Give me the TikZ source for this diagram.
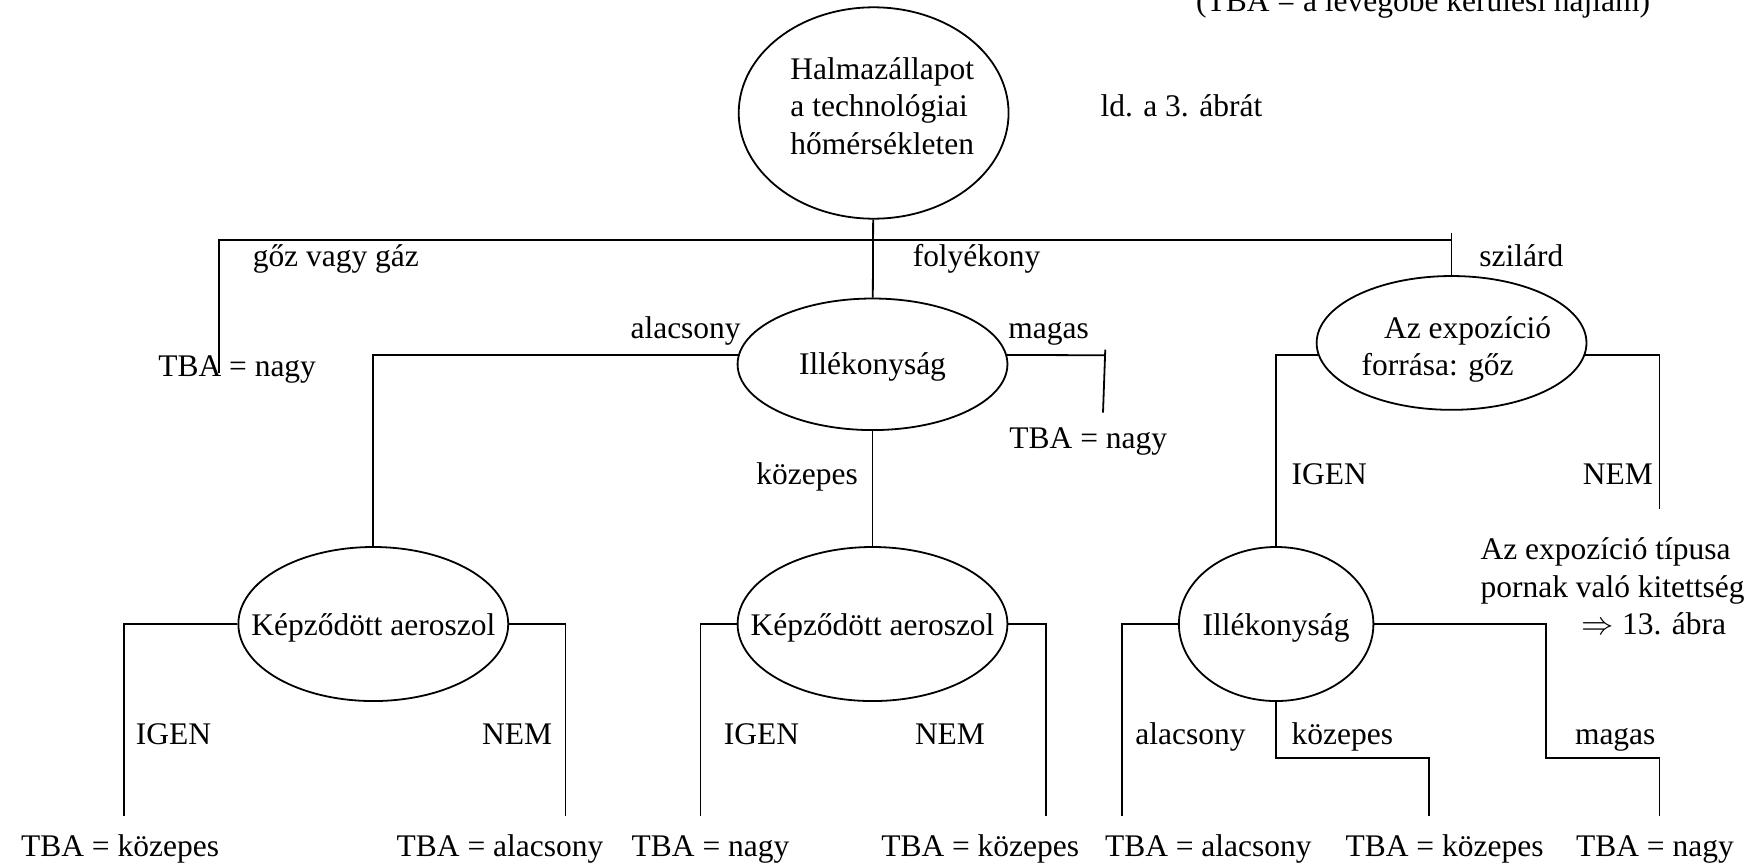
\documentclass[tikz,border=0pt]{standalone}
\usepackage{fontspec}
\setmainfont{Liberation Serif}
\usetikzlibrary{shapes.geometric}

% text in an ellipse: centred, or from a left offset; no size of its own
\newcommand{\kozep}[2]{\makebox[0pt]{\raisebox{#1}[0pt][0pt]{#2}}}
\newcommand{\belul}[3]{\makebox[0pt][l]{\hspace*{#1}\raisebox{#2}[0pt][0pt]{\begin{tabular}[t]{@{}l@{}}#3\end{tabular}}}}

\begin{document}
\begin{tikzpicture}[x=0.5pt, y=-0.5pt, line width=0.8pt]

\tikzstyle{every node} = [inner sep=0pt, font=\fontsize{14}{16.5}\selectfont]
\tikzstyle{ell} = [ellipse, draw, minimum width=120pt]
\tikzstyle{lbl} = [anchor=base west]

\useasboundingbox (0,0) rectangle (1568,771);

\node[lbl] (hajlam) at (1063,10) {(TBA = a levegőbe kerülési hajlam)};

\node[ell, minimum height=94pt] (allapot) at (777,100.5)
  {\belul{-37pt}{14.75pt}{Halmazállapot\\a technológiai\\hőmérsékleten}};
\node[lbl] (ld) at (978,104) {ld. a 3. ábrát};

\node[ell, minimum height=58.5pt] (illek) at (776,324) {\kozep{-4.75pt}{Illékonyság}};
\node[ell, minimum height=59.5pt] (forras) at (1291,305)
  {\belul{-40pt}{2pt}{\hspace*{10pt}Az expozíció\\forrása: gőz}};

\node[ell, minimum height=68.5pt] (aero1) at (332,555) {\kozep{-5pt}{Képződött aeroszol}};
\node[ell, minimum height=68.5pt] (aero2) at (776,555) {\kozep{-5pt}{Képződött aeroszol}};
\node[ell, minimum width=86.5pt, minimum height=68.5pt] (illek2) at (1135,555) {\kozep{-5pt}{Illékonyság}};

\node[lbl] (goz) at (224,237) {gőz vagy gáz};
\node[lbl] (foly) at (811,237) {folyékony};
\node[lbl] (szil) at (1315,237) {szilárd};
\node[lbl] (tba1) at (140,335) {TBA = nagy};
\node[lbl] (alac1) at (560,301) {alacsony};
\node[lbl] (mag1) at (896,301) {magas};
\node[lbl] (tba2) at (897,398.5) {TBA = nagy};
\node[lbl] (koz1) at (672,431) {közepes};
\node[lbl] (igen1) at (1148,431) {IGEN};
\node[lbl] (nem1) at (1407,431) {NEM};
\node[lbl] (tipus) at (1316,498)
  {\begin{tabular}[t]{@{}l@{}}Az expozíció típusa\\pornak való kitettség\\\hspace*{45pt}$\Rightarrow$ 13. ábra\end{tabular}};

\node[lbl] (igen2) at (120,662.5) {IGEN};
\node[lbl] (nem2) at (428,662.5) {NEM};
\node[lbl] (igen3) at (643,662.5) {IGEN};
\node[lbl] (nem3) at (813,662.5) {NEM};
\node[lbl] (alac2) at (1009,662.5) {alacsony};
\node[lbl] (koz2) at (1148,662.5) {közepes};
\node[lbl] (mag2) at (1400,662.5) {magas};

\node[lbl] (tba3) at (18,762) {TBA = közepes};
\node[lbl] (tba4) at (352,762) {TBA = alacsony};
\node[lbl] (tba5) at (561,762) {TBA = nagy};
\node[lbl] (tba6) at (783,762) {TBA = közepes};
\node[lbl] (tba7) at (982,762) {TBA = alacsony};
\node[lbl] (tba8) at (1196,762) {TBA = közepes};
\node[lbl] (tba9) at (1401,762) {TBA = nagy};

\coordinate (gazveg) at (195,332);
\coordinate (gazsarok) at (195,213.5);
\coordinate (szilsarok) at (1291,213.5);
\coordinate (szilfent) at (1291,207);
\coordinate (magsarok1) at (983,316);
\coordinate (magfent) at (983,311);
\coordinate (magveg1) at (981,367);
\coordinate (nemveg) at (1476,453);
\coordinate (a1bal) at (110,726);
\coordinate (a1jobb) at (503,726);
\coordinate (a2bal) at (623,726);
\coordinate (a2jobb) at (930,726);
\coordinate (i2bal) at (998,726);
\coordinate (kozsarok) at (1271,674);
\coordinate (kozveg) at (1271,726);
\coordinate (magsarok2) at (1375,674);
\coordinate (magveg2) at (1476,726);

\draw[-] (gazveg) -- (gazsarok) -- (szilsarok);
\draw[-] (szilfent) -- (forras.north);
\draw[-] (allapot) -- (illek);

\draw[-] (illek.176) -| (aero1.north);
\draw[-] (illek.4) -- (magsarok1);
\draw[-] (magfent) -- (magveg1);
\draw[-] (illek) -- (aero2);

\draw[-] (forras.185) -| (illek2.north);
\draw[-] (forras.-5) -| (nemveg);

\draw[-] (aero1.west) -| (a1bal);
\draw[-] (aero1.east) -| (a1jobb);
\draw[-] (aero2.west) -| (a2bal);
\draw[-] (aero2.east) -| (a2jobb);

\draw[-] (illek2.west) -| (i2bal);
\draw[-] (illek2.south) |- (kozsarok) -- (kozveg);
\draw[-] (illek2.east) -| (magsarok2) -| (magveg2);
\end{tikzpicture}
\end{document}
